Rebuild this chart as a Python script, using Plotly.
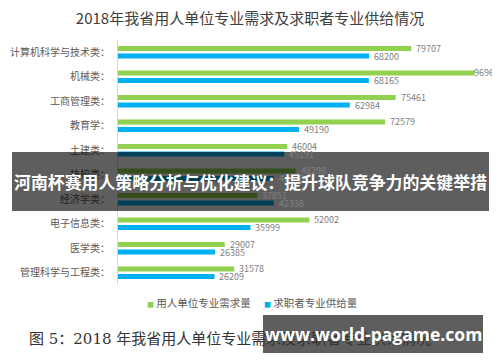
import plotly.graph_objects as go

categories = ["计算机科学与技术类", "机械类", "工商管理类", "教育学", "土建类",
              "技校类", "经济学类", "电子信息类", "医学类", "管理科学与工程类"]
demand = [79707, 96960, 75461, 72579, 46004, 48298, 37851, 52002, 29007, 31578]
supply = [68200, 68165, 62984, 49190, 45191, 42378, 42338, 35999, 26385, 26209]
series_names = ["用人单位专业需求量", "求职者专业供给量"]
title_text = "2018年我省用人单位专业需求及求职者专业供给情况"
caption_text = "图 5：2018 年我省用人单位专业需求及求职者专业供给情况"
banner_text = "河南杯赛用人策略分析与优化建议：提升球队竞争力的关键举措"
watermark_text = "www.world-pagame.com"

GREEN = "#92d050"
BLUE = "#00b0f0"
COLORS = [GREEN, BLUE]
FONT = "Noto Sans CJK SC"
XMAX = 102450

# the page body adds an 8px margin; size/position the figure so it fills the window
OX, OY = 8, 8
W, H = 500 - OX, 362 - OY
PW, PH = 377, 245
L, T = 118 - OX, 40 - OY
R, B = W - L - PW, H - T - PH

BARGAP = 0.38
GROUPGAP = 0.35
SLOT = (1 - BARGAP) / 2  # width per trace within a category (data units)


def px(x):
    """window x (px) -> paper coordinate"""
    return (x - OX - L) / PW


def py(y):
    """window y (px) -> paper coordinate"""
    return (H - B - (y - OY)) / PH


fig = go.Figure()
for vals, color, name in zip((demand, supply), COLORS, series_names):
    fig.add_trace(go.Bar(
        y=categories, x=vals, orientation="h", name=name,
        marker=dict(color=color, line=dict(width=0)),
        showlegend=False, hoverinfo="x+y",
    ))

# value labels (green one above, blue one below the category centre)
for k, vals in enumerate((demand, supply)):
    offset = (k - 0.5) * SLOT
    for i, v in enumerate(vals):
        fig.add_annotation(
            x=v, y=i + offset, xref="x", yref="y", text=str(v),
            xanchor="left", yanchor="middle", showarrow=False,
            xshift=-3 if v > 0.9 * XMAX else 3,
            font=dict(family=FONT, size=9, color="#808080"))

fig.update_layout(
    width=W, height=H,
    margin=dict(l=L, r=R, t=T, b=B, autoexpand=False),
    paper_bgcolor="white", plot_bgcolor="white",
    barmode="group", bargap=BARGAP, bargroupgap=GROUPGAP,
    title=dict(text=title_text, x=(250 - OX) / W, xanchor="center", xref="container",
               y=1 - (19 - OY) / H, yanchor="middle", yref="container", automargin=False,
               font=dict(family=FONT, size=15, color="#404040")),
    showlegend=False,
    font=dict(family=FONT),
)
fig.update_xaxes(range=[0, XMAX], visible=False, showgrid=False, zeroline=False,
                 automargin=False)
fig.update_yaxes(autorange="reversed", showgrid=False, zeroline=False, automargin=False,
                 showline=True, linecolor="#d9d9d9", linewidth=1,
                 ticks="outside", ticklen=5, tickcolor="rgba(0,0,0,0)",
                 ticksuffix="：",
                 tickfont=dict(family=FONT, size=10, color="#595959"))

# legend drawn as annotations with coloured squares
legend_x = [145, 262]
for name, color, lx in zip(series_names, COLORS, legend_x):
    fig.add_annotation(
        text='<span style="color:%s;font-size:7px">■</span> %s' % (color, name),
        xref="paper", yref="paper", x=px(lx), y=py(302),
        xanchor="left", yanchor="middle", showarrow=False,
        font=dict(family=FONT, size=10.5, color="#595959"))

# caption below chart
fig.add_annotation(text=caption_text, xref="paper", yref="paper",
                   x=px(27), y=py(339), xanchor="left", yanchor="middle",
                   showarrow=False,
                   font=dict(family="DejaVu Serif, " + FONT, size=15, color="#333333"))

# banner overlay
fig.add_shape(type="rect", xref="paper", yref="paper", layer="above",
              x0=px(12), x1=px(489), y0=py(211), y1=py(152),
              fillcolor="rgba(0,0,0,0.63)", line=dict(width=0))
fig.add_annotation(text="<b>" + banner_text + "</b>", xref="paper", yref="paper",
                   x=px(250), y=py(181), xanchor="center", yanchor="middle",
                   showarrow=False, font=dict(family=FONT, size=16.9, color="white"))

# watermark box
fig.add_shape(type="rect", xref="paper", yref="paper", layer="above",
              x0=px(263), x1=px(483), y0=py(353), y1=py(315),
              fillcolor="#5e5e5e", line=dict(width=0))
fig.add_annotation(text="<b>" + watermark_text + "</b>", xref="paper", yref="paper",
                   x=px(373), y=py(334), xanchor="center", yanchor="middle",
                   showarrow=False, font=dict(family="Open Sans, " + FONT, size=17.5, color="white"))

fig.write_html("out.html")
